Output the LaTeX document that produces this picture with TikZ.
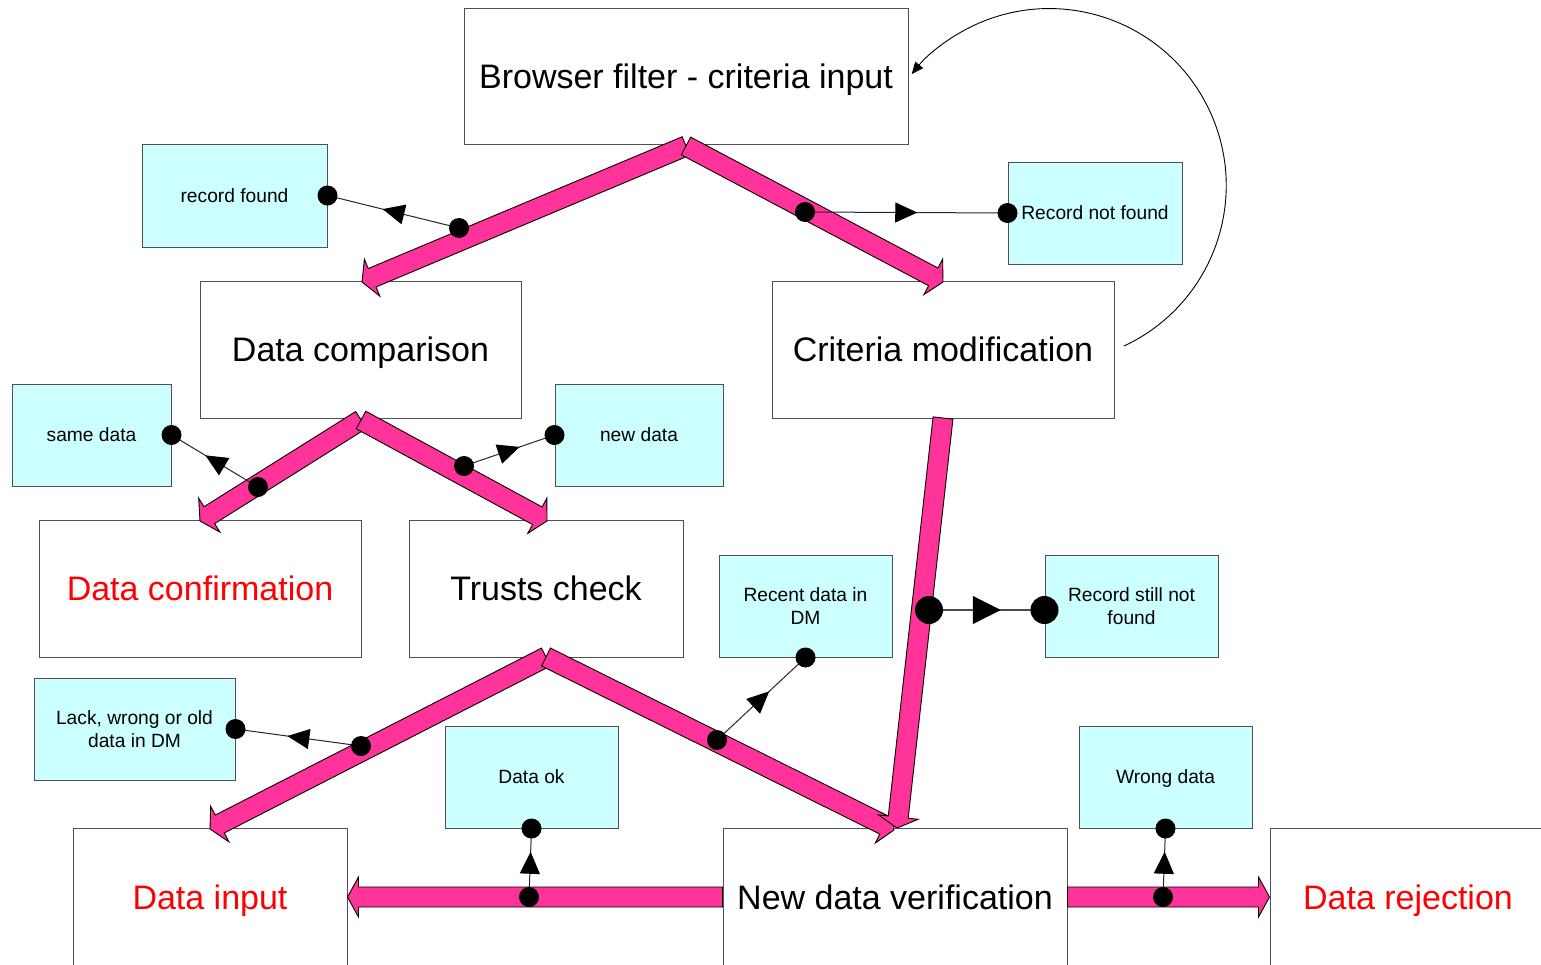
\documentclass[tikz,border=0pt]{standalone}
\usepackage{fontspec}
\setmainfont{Liberation Sans}
\usetikzlibrary{calc,arrows.meta,decorations.markings}

\definecolor{flowpink}{RGB}{255,51,153}
\definecolor{notecyan}{RGB}{204,255,255}
\definecolor{boxline}{RGB}{80,80,80}

% Block arrow from #1 to #2; #3 names the point where the head starts
\newcommand\fatarrow[3]{%
  \coordinate (#3) at ($(#2)!5.5pt!(#1)$);
  \filldraw[fatflow] ($(#1)!5pt!90:(#2)$) -- ($(#3)!5pt!90:(#2)$)
    -- ($(#3)!10pt!90:(#2)$) -- (#2) -- ($(#3)!10pt!-90:(#2)$)
    -- ($(#3)!5pt!-90:(#2)$) -- ($(#1)!5pt!-90:(#2)$) -- cycle;}

\begin{document}
\begin{tikzpicture}[x=0.5pt,y=-0.5pt,
  stage/.style={draw=boxline, line width=0.5pt, fill=white, inner sep=0pt,
    text depth=0pt, font=\fontsize{17}{20}\selectfont},
  outcome/.style={stage, text=red},
  note/.style={draw=boxline, line width=0.5pt, fill=notecyan, inner sep=0pt,
    align=center, minimum width=86.5pt, minimum height=51pt, text depth=0pt,
    font=\fontsize{9.6}{11.5}\selectfont},
  fatflow/.style={fill=flowpink, draw=black, line width=0.45pt, line join=miter},
  msg/.style={draw=black!85, line width=0.5pt, postaction={decorate},
    decoration={markings, mark=at position 0.5 with
      {\begin{scope}[xshift=5.5pt]\arrow{Triangle[length=11pt,width=10pt,black]}\end{scope}}}},
  bigmsg/.style={draw=black!70, line width=0.6pt, postaction={decorate},
    decoration={markings, mark=at position 0.5 with
      {\begin{scope}[xshift=7pt]\arrow{Triangle[length=14pt,width=14pt,black]}\end{scope}}}},
  loopline/.style={draw=black, line width=0.45pt, -{Triangle[length=6pt,width=5pt]}}
]
\clip (0,0) rectangle (1541,964);

% process boxes
\node[stage, minimum width=222pt, minimum height=68pt] (bf) at (686,76) {Browser filter - criteria input};
\node[stage, minimum width=160.5pt, minimum height=68.5pt] (dc) at (360.5,349.5) {Data comparison};
\node[stage, minimum width=171pt, minimum height=68.5pt] (cm) at (943,349.5) {Criteria modification};
\node[outcome, minimum width=161pt, minimum height=68.5pt] (dconf) at (200,588.5) {Data confirmation};
\node[stage, minimum width=137pt, minimum height=68.5pt] (tc) at (546,588.5) {Trusts check};
\node[outcome, minimum width=137pt, minimum height=69pt] (di) at (210,897) {Data input};
\node[stage, minimum width=172pt, minimum height=69pt] (ndv) at (895,897) {New data verification};
\node[outcome, minimum width=138pt, minimum height=69pt] (dr) at (1408,897) {Data rejection};

% condition notes
\node[note, minimum width=92.5pt, minimum height=51.5pt] (rf) at (234.5,195.5) {record found};
\node[note, minimum width=87pt] (rnf) at (1095,213) {Record not found};
\node[note, minimum width=79.5pt] (sd) at (91.5,435) {same data};
\node[note, minimum width=84pt] (nd) at (639,435) {new data};
\node[note] (rd) at (805.5,606) {Recent data in\\DM};
\node[note] (rsnf) at (1131.5,606) {Record still not\\found};
\node[note, minimum width=100.5pt] (lack) at (134.5,729) {Lack, wrong or old\\data in DM};
\node[note] (ok) at (531.5,777) {Data ok};
\node[note] (wd) at (1165.5,777) {Wrong data};

% end points of the flow arrows
\coordinate (bfb) at (686,146);
\coordinate (dct) at (362,282);
\coordinate (cmt) at (943,282);
\coordinate (dcb) at (361,420);
\coordinate (dconft) at (200,521);
\coordinate (tct) at (547,521);
\coordinate (tcb) at (546,657);
\coordinate (dit) at (210,829);
\coordinate (ndvt) at (894,830);
\coordinate (cmb) at (943,418);
\coordinate (ndvc) at (897,828);

% flow arrows
\fatarrow{bfb}{dct}{h1}
\fatarrow{bfb}{cmt}{h2}
\fatarrow{dcb}{dconft}{h3}
\fatarrow{dcb}{tct}{h4}
\fatarrow{tcb}{dit}{h5}
\fatarrow{tcb}{ndvt}{h6}
\fatarrow{cmb}{ndvc}{h7}
\fatarrow{ndv.west}{di.east}{h8}
\fatarrow{ndv.east}{dr.west}{h9}

% return loop to the filter
\coordinate (lp) at (1124,346);
\draw[loopline] (lp) arc[start angle=65, end angle=-141, radius=177];

% condition messages
\coordinate (m1) at (459,228);
\coordinate (m2) at (805,212);
\coordinate (m3) at (258,487);
\coordinate (m4) at (464,466);
\coordinate (m5) at (717,740);
\coordinate (m6) at (929,610);
\coordinate (m7) at (361,746);
\coordinate (m8) at (529,897);
\coordinate (m9) at (1163,897);
\coordinate (m6e) at (rsnf.west |- m6);

\draw[msg] (m1) -- (rf.east);
\draw[msg] (m2) -- (rnf.west);
\draw[msg] (m3) -- (sd.east);
\draw[msg] (m4) -- (nd.west);
\draw[msg] (m5) -- (rd.south);
\draw[bigmsg] (m6) -- (m6e);
\draw[msg] (m7) -- (lack.east);
\draw[msg] (m8) -- (ok.south);
\draw[msg] (m9) -- (wd.south);

\foreach \p in {m1,m2,m3,m4,m5,m7,m8,m9}
  \fill (\p) circle[radius=10];
\foreach \p in {rf.east,rnf.west,sd.east,nd.west,rd.south,lack.east,ok.south,wd.south}
  \fill (\p) circle[radius=10];
\fill (m6) circle[radius=14];
\fill (m6e) circle[radius=14];
\end{tikzpicture}
\end{document}
